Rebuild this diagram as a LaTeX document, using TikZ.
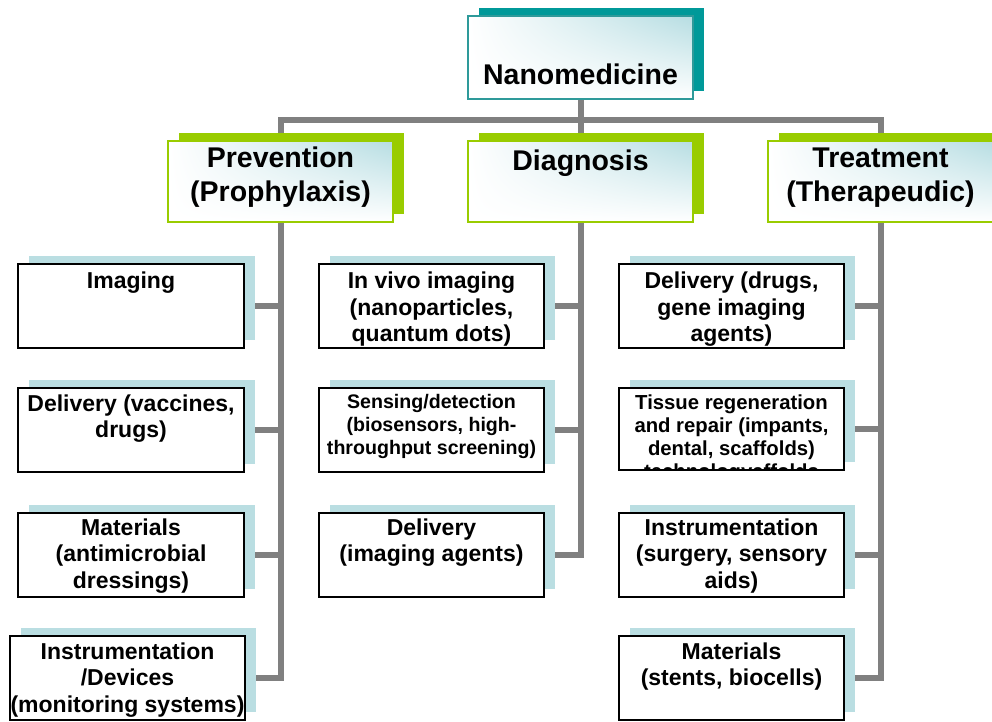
\documentclass[tikz,border=0pt]{standalone}
\usepackage{fontspec}
\setmainfont{Liberation Sans}
\usetikzlibrary{shadows,shadings}
\definecolor{conngray}{HTML}{808080}
\definecolor{tealsh}{HTML}{009999}
\definecolor{tealb}{HTML}{2E9A9A}
\definecolor{greenc}{HTML}{99CC00}
\definecolor{leafsh}{HTML}{BADEE2}
\definecolor{gradc}{HTML}{B6DDE2}
\pgfdeclarelayer{bg}
\pgfsetlayers{bg,main}
\begin{document}
\begin{tikzpicture}[x=1pt,y=-1pt,
  conn/.style={draw=conngray, line width=6pt},
  basebox/.style={rectangle, inner sep=0pt, line width=2pt},
  topbox/.style={basebox, draw=tealb, minimum width=225pt, minimum height=83pt,
    upper left=white, upper right=gradc, lower left=white, lower right=white,
    general shadow={fill=tealsh, shadow xshift=11pt, shadow yshift=8pt}},
  levelbox/.style={basebox, draw=greenc, minimum width=225pt, minimum height=81pt,
    upper left=white, upper right=gradc, lower left=white, lower right=white,
    general shadow={fill=greenc, shadow xshift=11pt, shadow yshift=8pt}},
  leafbox/.style={basebox, draw=black, fill=white, minimum width=225pt, minimum height=84pt,
    general shadow={fill=leafsh, shadow xshift=11pt, shadow yshift=8pt}},
  bigtxt/.style={font=\fontsize{28.5}{34}\selectfont\bfseries, align=center, inner sep=0pt, anchor=base},
  leaftxt/.style={font=\fontsize{23}{26.5}\selectfont\bfseries, align=center, inner sep=0pt, anchor=base},
  smalltxt/.style={font=\fontsize{19.6}{23}\selectfont\bfseries, align=center, inner sep=0pt, anchor=base}
]
\useasboundingbox (0,0) rectangle (992,721);
\clip (0,0) rectangle (992,721);

% top
\node[topbox] (nano) at (580.5,57.5) {};
\node[bigtxt] (nanot) at (580.5,84) {Nanomedicine};

% level 2 (anchor = baseline of last line)
\node[levelbox] (prev) at (280.5,181.5) {};
\node[bigtxt] (prevt) at (280.5,201) {Prevention\\(Prophylaxis)};
\node[levelbox] (diag) at (580.5,181.5) {};
\node[bigtxt] (diagt) at (580.5,170) {Diagnosis};
\node[levelbox] (treat) at (880.5,181.5) {};
\node[bigtxt] (treatt) at (880.5,201) {Treatment\\(Therapeudic)};

% prevention leaves
\node[leafbox, minimum width=226pt] (p1) at (131,306) {};
\node[leaftxt] (p1t) at (131,288.5) {Imaging};
\node[leafbox, minimum width=226pt] (p2) at (131,430) {};
\node[leaftxt] (p2t) at (131,437.5) {Delivery (vaccines,\\drugs)};
\node[leafbox, minimum width=226pt] (p3) at (131,555) {};
\node[leaftxt] (p3t) at (131,588) {Materials\\(antimicrobial\\dressings)};
\node[leafbox, minimum width=235pt] (p4) at (127.5,678) {};
\node[leaftxt] (p4t) at (127.5,712) {Instrumentation\\/Devices\\(monitoring systems)};

% diagnosis leaves
\node[leafbox] (d1) at (431.5,306) {};
\node[leaftxt] (d1t) at (431.5,341.5) {In vivo imaging\\(nanoparticles,\\quantum dots)};
\node[leafbox] (d2) at (431.5,430) {};
\node[smalltxt] (d2t) at (431.5,454.5) {Sensing/detection\\(biosensors, high-\\throughput screening)};
\node[leafbox] (d3) at (431.5,555) {};
\node[leaftxt] (d3t) at (431.5,561.5) {Delivery\\(imaging agents)};

% treatment leaves
\node[leafbox] (t1) at (731.5,306) {};
\node[leaftxt] (t1t) at (731.5,341.5) {Delivery (drugs,\\gene imaging\\agents)};
\node[leafbox, minimum height=82pt] (t2) at (731.5,429) {};
\begin{scope}
\clip ([xshift=1pt,yshift=-1pt]t2.north west) rectangle ([xshift=-1pt,yshift=1pt]t2.south east);
\node[smalltxt, font=\fontsize{20.3}{23}\selectfont\bfseries] (t2t) at (731.5,478) {Tissue regeneration\\and repair (impants,\\dental, scaffolds)\\technologyaffolds};
\end{scope}
\node[leafbox] (t3) at (731.5,555) {};
\node[leaftxt] (t3t) at (731.5,588) {Instrumentation\\(surgery, sensory\\aids)};
\node[leafbox] (t4) at (731.5,678) {};
\node[leaftxt] (t4t) at (731.5,685.5) {Materials\\(stents, biocells)};

% connectors
\begin{pgfonlayer}{bg}
\coordinate (hub) at (580.5,120);
\draw[conn] (nano.south) -- (hub);
\draw[conn] (prev.north) |- (hub) -| (treat.north);
\draw[conn] (hub) -- (diag.north);
\draw[conn] (prev.south) |- (p4.east);
\foreach \n in {p1,p2,p3} \draw[conn] (\n.east) -- (\n.east -| prev.south);
\draw[conn] (diag.south) |- (d3.east);
\foreach \n in {d1,d2} \draw[conn] (\n.east) -- (\n.east -| diag.south);
\draw[conn] (treat.south) |- (t4.east);
\foreach \n in {t1,t2,t3} \draw[conn] (\n.east) -- (\n.east -| treat.south);
\end{pgfonlayer}
\end{tikzpicture}
\end{document}
